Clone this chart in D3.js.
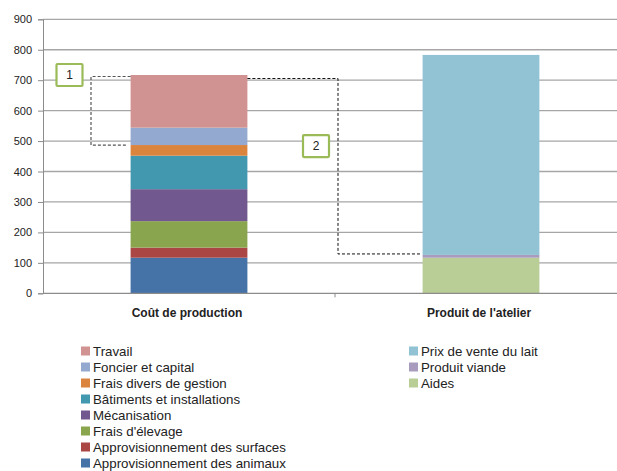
<!DOCTYPE html>
<html>
<head>
<meta charset="utf-8">
<script src="https://cdn.jsdelivr.net/npm/d3@7"></script>
<style>
  body { margin: 0; background: #fff; }
  text { font-family: "Liberation Sans", Arial, sans-serif; fill: #222; }
</style>
</head>
<body>
<div id="chart"></div>
<script>
var categories = ["Coût de production", "Produit de l'atelier"]

// stacked from bottom to top
var coutNames = ["Approvisionnement des animaux", "Approvisionnement des surfaces", "Frais d'élevage", "Mécanisation", "Bâtiments et installations", "Frais divers de gestion", "Foncier et capital", "Travail"]
var coutValues = [117, 33, 87, 105, 110, 35, 57, 173]
var coutColors = ["#4572a7", "#aa4644", "#89a54e", "#71588f", "#4198af", "#db843d", "#93a9cf", "#d19392"]

var produitNames = ["Aides", "Produit viande", "Prix de vente du lait"]
var produitValues = [117, 9, 657]
var produitColors = ["#b9cd96", "#a99bbd", "#92c3d4"]

var yTicks = [0, 100, 200, 300, 400, 500, 600, 700, 800, 900]
var markers = ["1", "2"]

var width = 617, height = 471
var svg = d3.select("#chart").append("svg").attr("width", width).attr("height", height)

var x = d3.scaleBand().domain(categories).range([43, 627])
var y = d3.scaleLinear().domain([0, 900]).range([293.3, 19.3])
var barW = x.bandwidth() * 0.4

// grid
svg.selectAll(".grid").data(yTicks.slice(1)).enter().append("line")
  .attr("x1", 43).attr("x2", width)
  .attr("y1", function(d){ return y(d) }).attr("y2", function(d){ return y(d) })
  .attr("stroke", "#a6a6a6").attr("stroke-width", 1.3)

// y axis
var yAxis = svg.append("g").attr("transform", "translate(43,0)")
  .call(d3.axisLeft(y).tickValues(yTicks).tickSize(5).tickPadding(6))
yAxis.select(".domain").attr("stroke", "#8c8c8c")
yAxis.selectAll(".tick line").attr("stroke", "#8c8c8c")
yAxis.selectAll(".tick text").attr("font-size", 11).attr("fill", "#333")
  .attr("font-family", "Liberation Sans, Arial, sans-serif")

// stacked bars
function stack(values) {
  var c = d3.cumsum(values)
  return values.map(function(v, i){ return { y0: c[i] - v, y1: c[i] } })
}
function drawBar(cat, values, colors) {
  var cx = x(cat) + x.bandwidth() / 2
  svg.append("g").selectAll("rect").data(stack(values)).enter().append("rect")
    .attr("x", cx - barW / 2).attr("width", barW)
    .attr("y", function(d){ return y(d.y1) })
    .attr("height", function(d){ return y(d.y0) - y(d.y1) })
    .attr("fill", function(d, i){ return colors[i] })
}
drawBar(categories[0], coutValues, coutColors)
drawBar(categories[1], produitValues, produitColors)

// x axis
svg.append("line").attr("x1", 43).attr("x2", width).attr("y1", y(0)).attr("y2", y(0))
  .attr("stroke", "#8c8c8c").attr("stroke-width", 1.2)
svg.append("line").attr("x1", x(categories[1])).attr("x2", x(categories[1]))
  .attr("y1", y(0)).attr("y2", y(0) + 4).attr("stroke", "#8c8c8c")
svg.selectAll(".cat").data(categories).enter().append("text")
  .attr("x", function(d){ return x(d) + x.bandwidth() / 2 - 2 })
  .attr("y", 317).attr("text-anchor", "middle")
  .attr("font-size", 12).attr("font-weight", "bold").text(function(d){ return d })

// annotations
var totalCout = d3.sum(coutValues)
var cumCout = d3.cumsum(coutValues)
var x0 = x(categories[0]) + x.bandwidth() / 2, x1 = x(categories[1]) + x.bandwidth() / 2
var sepX = x(categories[1])

svg.append("path")
  .attr("d", "M" + (x0 - barW / 2) + "," + (y(totalCout) + 1.5) + "H" + 91 + "V" + y(cumCout[5]) + "H" + (x0 - barW / 2 - 3))
  .attr("fill", "none").attr("stroke", "#555").attr("stroke-width", 1.2).attr("stroke-dasharray", "3,2")
svg.append("path")
  .attr("d", "M" + (x0 + barW / 2) + "," + (y(totalCout) + 3.5) + "H" + (sepX + 3) + "V" + (y(produitValues[0] + produitValues[1]) - 1) + "H" + (x1 - barW / 2 - 2))
  .attr("fill", "none").attr("stroke", "#111").attr("stroke-width", 1).attr("stroke-dasharray", "3,2")

var boxes = [
  { label: markers[0], cx: 69.5, cy: y(totalCout) },
  { label: markers[1], cx: sepX - 19, cy: y(cumCout[5]) + 1 }
]
var bg = svg.selectAll(".mk").data(boxes).enter().append("g")
bg.append("rect")
  .attr("x", function(d){ return d.cx - 13 }).attr("y", function(d){ return d.cy - 11 })
  .attr("width", 26).attr("height", 22).attr("rx", 1)
  .attr("fill", "#fff").attr("stroke", "#9bbb59").attr("stroke-width", 2.2)
bg.append("text").attr("x", function(d){ return d.cx }).attr("y", function(d){ return d.cy + 4 })
  .attr("text-anchor", "middle").attr("font-size", 12).text(function(d){ return d.label })

// legend
var leftLegend = coutNames.map(function(n, i){ return { name: n, color: coutColors[i] } }).reverse()
var rightLegend = produitNames.map(function(n, i){ return { name: n, color: produitColors[i] } }).reverse()
function legend(items, lx) {
  var g = svg.append("g").selectAll("g").data(items).enter().append("g")
    .attr("transform", function(d, i){ return "translate(" + lx + "," + (351 + i * 16) + ")" })
  g.append("rect").attr("x", 0).attr("y", -4.5).attr("width", 9).attr("height", 9)
    .attr("fill", function(d){ return d.color })
  g.append("text").attr("x", 12).attr("y", 4.5).attr("font-size", 13.3)
    .text(function(d){ return d.name })
}
legend(leftLegend, 81)
legend(rightLegend, 409)
</script>
</body>
</html>
